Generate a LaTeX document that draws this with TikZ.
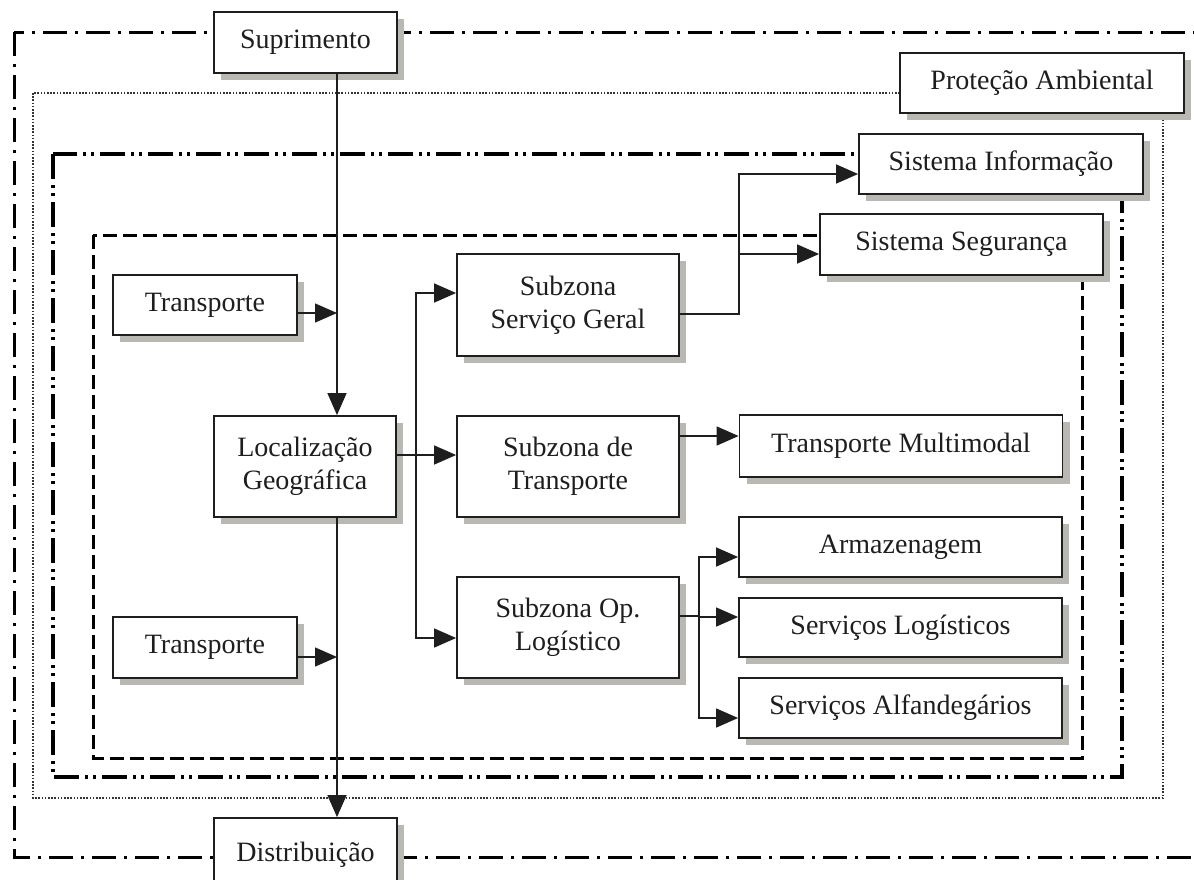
\documentclass[tikz,border=0pt]{standalone}
\usepackage{fontspec}
\setmainfont{Liberation Serif}
\usetikzlibrary{arrows.meta,shadows}
\definecolor{shadowgrey}{RGB}{186,184,178}
\definecolor{inkgrey}{RGB}{30,30,30}

\begin{document}
\begin{tikzpicture}[x=1pt,y=-1pt,>={Triangle[length=22pt,width=19pt]},
    font=\fontsize{28}{33}\selectfont,
    box/.style={draw=inkgrey,line width=1.8pt,fill=white,align=center,inner sep=0pt,text=inkgrey,
      drop shadow={shadow xshift=7pt,shadow yshift=-7pt,fill=shadowgrey,opacity=1}},
    conn/.style={->,draw=inkgrey,line width=1.4pt},
    zoneouter/.style={draw=black,line width=3pt,dash pattern=on 24pt off 8pt on 3pt off 8pt},
    zonedot/.style={draw=black!80,line width=1.6pt,dash pattern=on 1.6pt off 1.6pt},
    zonedashdot/.style={draw=black,line width=3.2pt,dash pattern=on 25pt off 6pt on 3pt off 5pt on 3pt off 6pt},
    zonedash/.style={draw=black,line width=3pt,dash pattern=on 14pt off 6pt}]
    \useasboundingbox (0,0) rectangle (1194,879);
    % zonas
    \draw[zoneouter] (14,32) rectangle (1215,857);
    \draw[zonedot] (33,93) rectangle (1163,798);
    \draw[zonedashdot] (53,154) rectangle (1122,777);
    \draw[zonedash] (93,235) rectangle (1082,758);
    % caixas
    \node[box,minimum width=183pt,minimum height=61pt] (supr) at (305.5,42.5) {Suprimento};
    \node[box,minimum width=183pt,minimum height=74pt] (dist) at (305.5,855) {\raisebox{6pt}{Distribuição}};
    \node[box,minimum width=284pt,minimum height=60pt] (prot) at (1042,83) {Proteção Ambiental};
    \node[box,minimum width=284pt,minimum height=60pt] (sinf) at (1001,164) {Sistema Informação};
    \node[box,minimum width=283pt,minimum height=61pt] (sseg) at (961.5,244.5) {Sistema Segurança};
    \node[box,minimum width=184pt,minimum height=60pt] (tr1) at (205,305) {Transporte};
    \node[box,minimum width=184pt,minimum height=61pt] (tr2) at (205,647.5) {Transporte};
    \node[box,minimum width=182pt,minimum height=101pt] (loc) at (305,466.5) {Localização\\Geográfica};
    \node[box,minimum width=222pt,minimum height=102pt] (sg) at (568,305) {Subzona\\Serviço Geral};
    \node[box,minimum width=222pt,minimum height=101pt] (st) at (568,466.5) {Subzona de\\Transporte};
    \node[box,minimum width=222pt,minimum height=101pt] (sol) at (568,627.5) {Subzona Op.\\Logístico};
    \node[box,minimum width=323pt,minimum height=62pt] (tm) at (901,446) {Transporte Multimodal};
    \node[box,minimum width=323pt,minimum height=60pt] (arm) at (900.5,547) {Armazenagem};
    \node[box,minimum width=323pt,minimum height=59pt] (slog) at (900.5,627.5) {Serviços Logísticos};
    \node[box,minimum width=323pt,minimum height=60pt] (salf) at (900.5,708) {Serviços Alfandegários};
    % barras e pontos de saida
    \coordinate (busA) at (337,0);
    \coordinate (busB) at (416,0);
    \coordinate (busC) at (739,0);
    \coordinate (busD) at (699,0);
    \coordinate (inA) at ([yshift=-8pt]tr1.east);
    \coordinate (inB) at ([yshift=-9.5pt]tr2.east);
    \coordinate (outL) at ([yshift=11.5pt]loc.east);
    \coordinate (outG) at ([yshift=-9pt]sg.east);
    \coordinate (outT) at ([yshift=30.5pt]st.east);
    \coordinate (outO) at ([yshift=11.5pt]sol.east);
    % ligacoes
    \draw[conn] (supr.south -| busA) -- (loc.north -| busA);
    \draw[conn] (loc.south -| busA) -- (dist.north -| busA);
    \draw[conn] (inA) -- (inA -| busA);
    \draw[conn] (inB) -- (inB -| busA);
    \draw[conn] (outL) -- (outL -| st.west);
    \draw[conn] (outL -| busB) |- ([yshift=12pt]sg.west);
    \draw[conn] (outL -| busB) |- ([yshift=-10.5pt]sol.west);
    \draw[conn] (outG) -- (outG -| busC) |- ([yshift=-10pt]sinf.west);
    \draw[conn] (outG -| busC) |- ([yshift=-9.5pt]sseg.west);
    \draw[conn] (outT) -- (outT -| tm.west);
    \draw[conn] (outO) -- (outO -| busD) |- ([yshift=-10pt]arm.west);
    \draw[conn] (outO -| busD) |- ([yshift=10.5pt]slog.west);
    \draw[conn] (outO -| busD) |- ([yshift=-10pt]salf.west);
\end{tikzpicture}
\end{document}
